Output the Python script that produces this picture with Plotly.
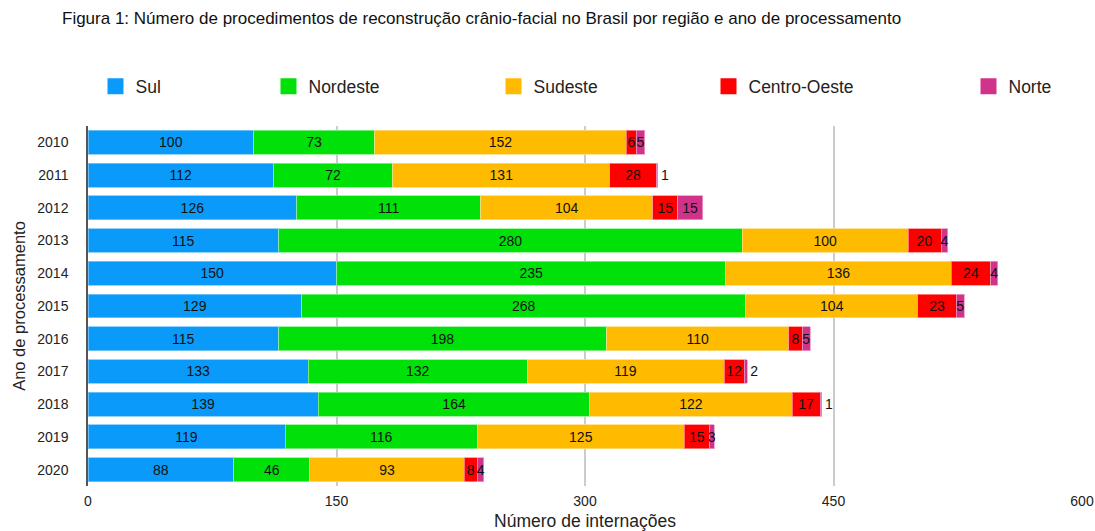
import plotly.graph_objects as go

years = ["2010", "2011", "2012", "2013", "2014", "2015", "2016", "2017", "2018", "2019", "2020"]
sul = [100, 112, 126, 115, 150, 129, 115, 133, 139, 119, 88]
nordeste = [73, 72, 111, 280, 235, 268, 198, 132, 164, 116, 46]
sudeste = [152, 131, 104, 100, 136, 104, 110, 119, 122, 125, 93]
centro_oeste = [6, 28, 15, 20, 24, 23, 8, 12, 17, 15, 8]
norte = [5, 1, 15, 4, 4, 5, 5, 2, 1, 3, 4]
x_ticks = [0, 150, 300, 450, 600]

series = [
    ("Sul", sul, "#0A9BFA", "#7cc8fb"),
    ("Nordeste", nordeste, "#00E10A", "#8ef08f"),
    ("Sudeste", sudeste, "#FFBB00", "#ffdc80"),
    ("Centro-Oeste", centro_oeste, "#FF0000", "#ff8c8c"),
    ("Norte", norte, "#D1338A", "#e79cc5"),
]

FONT = "Liberation Sans, Arial, Helvetica, sans-serif"
# legend swatch centre pixel positions (for legend placement)
legend_px = [115.5, 288.5, 513.5, 728.5, 988.5]
L, R = 88, 1082

fig = go.Figure()
for i, (name, vals, col, edge) in enumerate(series):
    if name == "Norte":
        pos = ["outside" if v <= 2 else "inside" for v in vals]
    else:
        pos = "inside"
    fig.add_trace(go.Bar(
        y=years, x=vals, orientation="h", name=name,
        marker=dict(color=col, line=dict(color=edge, width=0.8)),
        text=[str(v) for v in vals], textposition=pos, textangle=0,
        constraintext="none", insidetextanchor="middle",
        textfont=dict(color="#111111", size=14, family=FONT),
        cliponaxis=False, showlegend=False, hoverinfo="x+y+name",
    ))

for i, (name, vals, col, edge) in enumerate(series):
    lg = "legend" if i == 0 else f"legend{i+1}"
    fig.add_trace(go.Scatter(
        x=[None], y=[None], mode="markers", name=name,
        marker=dict(symbol="square", size=16, color=col),
        showlegend=True, legend=lg,
    ))

legend_common = dict(orientation="h", yanchor="middle", y=1.11, xanchor="left",
                     font=dict(size=17.5, family=FONT, color="#222222"),
                     bgcolor="rgba(0,0,0,0)", itemsizing="trace")
layout_legends = {}
for i, px in enumerate(legend_px):
    key = "legend" if i == 0 else f"legend{i+1}"
    layout_legends[key] = dict(legend_common, x=(px - 20 - L) / (R - L))

fig.update_layout(
    width=1095, height=531,
    paper_bgcolor="white", plot_bgcolor="white",
    barmode="stack", bargap=0.27,
    margin=dict(l=88, r=13, t=126, b=45, autoexpand=False),
    font=dict(family=FONT, size=13, color="#222222"),
    title=dict(text="Figura 1: Número de procedimentos de reconstrução crânio-facial no Brasil por região e ano de processamento",
               x=62 / 1095, xanchor="left", y=1 - 18 / 531, yanchor="middle",
               font=dict(size=17, family=FONT, color="#111111")),
    xaxis=dict(range=[0, 600], tickvals=x_ticks, ticktext=[str(t) for t in x_ticks],
               showgrid=True, gridcolor="#cccccc", gridwidth=1.5, zeroline=False,
               showline=False, ticks="", ticklabelstandoff=5,
               tickfont=dict(size=14, family=FONT, color="#222222"),
               title=dict(text="Número de internações", font=dict(size=17.5, family=FONT, color="#222222"), standoff=11)),
    yaxis=dict(categoryorder="array", categoryarray=years, autorange="reversed",
               showgrid=False, showline=True, linecolor="#555555", linewidth=1.5,
               ticks="", ticklabelstandoff=15, tickfont=dict(size=14, family=FONT, color="#222222"),
               title=dict(text="Ano de processamento", font=dict(size=16.5, family=FONT, color="#222222"), standoff=8)),
    **layout_legends,
)

fig.write_html("out.html", config={"displayModeBar": False},
               post_script="document.body.style.margin='0';")
